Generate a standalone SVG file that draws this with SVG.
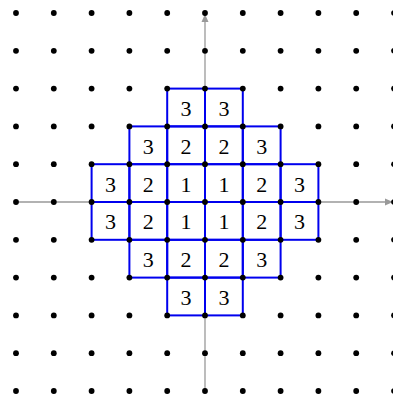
<svg xmlns="http://www.w3.org/2000/svg" width="393" height="398" viewBox="0 0 393 398">
<style>
.cell{fill:none;stroke:#0000ee;stroke-width:2}
.num{font-family:"Liberation Serif","DejaVu Serif",serif;font-size:22px;fill:#000;text-anchor:middle}
.axis{stroke:#999;stroke-width:1.3;fill:none}
.dot{fill:#000}
</style>
<defs>
<marker id="ah" markerWidth="8" markerHeight="8" refX="7" refY="4" orient="auto" markerUnits="userSpaceOnUse">
<path d="M0,0.5 L8,4 L0,7.5 Z" fill="#999"/>
</marker>
<circle id="d" r="2.9" class="dot"/>
</defs>
<rect width="393" height="398" fill="#fff"/>
<g id="connectors">
<line class="axis" x1="205" y1="391" x2="205" y2="15" marker-end="url(#ah)"/>
<line class="axis" x1="16" y1="202" x2="392" y2="202" marker-end="url(#ah)"/>
</g>
<g id="cells">
<g id="c_m1_2"><rect class="cell" x="167.2" y="88.6" width="37.8" height="37.8"/><text class="num" x="186.1" y="116">3</text></g>
<g id="c_0_2"><rect class="cell" x="205" y="88.6" width="37.8" height="37.8"/><text class="num" x="223.9" y="116">3</text></g>

<g id="c_m2_1"><rect class="cell" x="129.4" y="126.4" width="37.8" height="37.8"/><text class="num" x="148.3" y="153.8">3</text></g>
<g id="c_m1_1"><rect class="cell" x="167.2" y="126.4" width="37.8" height="37.8"/><text class="num" x="186.1" y="153.8">2</text></g>
<g id="c_0_1"><rect class="cell" x="205" y="126.4" width="37.8" height="37.8"/><text class="num" x="223.9" y="153.8">2</text></g>
<g id="c_1_1"><rect class="cell" x="242.8" y="126.4" width="37.8" height="37.8"/><text class="num" x="261.7" y="153.8">3</text></g>

<g id="c_m3_0"><rect class="cell" x="91.6" y="164.2" width="37.8" height="37.8"/><text class="num" x="110.5" y="191.6">3</text></g>
<g id="c_m2_0"><rect class="cell" x="129.4" y="164.2" width="37.8" height="37.8"/><text class="num" x="148.3" y="191.6">2</text></g>
<g id="c_m1_0"><rect class="cell" x="167.2" y="164.2" width="37.8" height="37.8"/><text class="num" x="186.1" y="191.6">1</text></g>
<g id="c_0_0"><rect class="cell" x="205" y="164.2" width="37.8" height="37.8"/><text class="num" x="223.9" y="191.6">1</text></g>
<g id="c_1_0"><rect class="cell" x="242.8" y="164.2" width="37.8" height="37.8"/><text class="num" x="261.7" y="191.6">2</text></g>
<g id="c_2_0"><rect class="cell" x="280.6" y="164.2" width="37.8" height="37.8"/><text class="num" x="299.5" y="191.6">3</text></g>

<g id="c_m3_m1"><rect class="cell" x="91.6" y="202" width="37.8" height="37.8"/><text class="num" x="110.5" y="229.4">3</text></g>
<g id="c_m2_m1"><rect class="cell" x="129.4" y="202" width="37.8" height="37.8"/><text class="num" x="148.3" y="229.4">2</text></g>
<g id="c_m1_m1"><rect class="cell" x="167.2" y="202" width="37.8" height="37.8"/><text class="num" x="186.1" y="229.4">1</text></g>
<g id="c_0_m1"><rect class="cell" x="205" y="202" width="37.8" height="37.8"/><text class="num" x="223.9" y="229.4">1</text></g>
<g id="c_1_m1"><rect class="cell" x="242.8" y="202" width="37.8" height="37.8"/><text class="num" x="261.7" y="229.4">2</text></g>
<g id="c_2_m1"><rect class="cell" x="280.6" y="202" width="37.8" height="37.8"/><text class="num" x="299.5" y="229.4">3</text></g>

<g id="c_m2_m2"><rect class="cell" x="129.4" y="239.8" width="37.8" height="37.8"/><text class="num" x="148.3" y="267.2">3</text></g>
<g id="c_m1_m2"><rect class="cell" x="167.2" y="239.8" width="37.8" height="37.8"/><text class="num" x="186.1" y="267.2">2</text></g>
<g id="c_0_m2"><rect class="cell" x="205" y="239.8" width="37.8" height="37.8"/><text class="num" x="223.9" y="267.2">2</text></g>
<g id="c_1_m2"><rect class="cell" x="242.8" y="239.8" width="37.8" height="37.8"/><text class="num" x="261.7" y="267.2">3</text></g>

<g id="c_m1_m3"><rect class="cell" x="167.2" y="277.6" width="37.8" height="37.8"/><text class="num" x="186.1" y="305">3</text></g>
<g id="c_0_m3"><rect class="cell" x="205" y="277.6" width="37.8" height="37.8"/><text class="num" x="223.9" y="305">3</text></g>
</g>
<g id="dots">
<g id="r0" transform="translate(0,13)"><use href="#d" x="16"/><use href="#d" x="53.8"/><use href="#d" x="91.6"/><use href="#d" x="129.4"/><use href="#d" x="167.2"/><use href="#d" x="205"/><use href="#d" x="242.8"/><use href="#d" x="280.6"/><use href="#d" x="318.4"/><use href="#d" x="356.2"/><use href="#d" x="394"/></g>
<g id="r1" transform="translate(0,50.8)"><use href="#d" x="16"/><use href="#d" x="53.8"/><use href="#d" x="91.6"/><use href="#d" x="129.4"/><use href="#d" x="167.2"/><use href="#d" x="205"/><use href="#d" x="242.8"/><use href="#d" x="280.6"/><use href="#d" x="318.4"/><use href="#d" x="356.2"/><use href="#d" x="394"/></g>
<g id="r2" transform="translate(0,88.6)"><use href="#d" x="16"/><use href="#d" x="53.8"/><use href="#d" x="91.6"/><use href="#d" x="129.4"/><use href="#d" x="167.2"/><use href="#d" x="205"/><use href="#d" x="242.8"/><use href="#d" x="280.6"/><use href="#d" x="318.4"/><use href="#d" x="356.2"/><use href="#d" x="394"/></g>
<g id="r3" transform="translate(0,126.4)"><use href="#d" x="16"/><use href="#d" x="53.8"/><use href="#d" x="91.6"/><use href="#d" x="129.4"/><use href="#d" x="167.2"/><use href="#d" x="205"/><use href="#d" x="242.8"/><use href="#d" x="280.6"/><use href="#d" x="318.4"/><use href="#d" x="356.2"/><use href="#d" x="394"/></g>
<g id="r4" transform="translate(0,164.2)"><use href="#d" x="16"/><use href="#d" x="53.8"/><use href="#d" x="91.6"/><use href="#d" x="129.4"/><use href="#d" x="167.2"/><use href="#d" x="205"/><use href="#d" x="242.8"/><use href="#d" x="280.6"/><use href="#d" x="318.4"/><use href="#d" x="356.2"/><use href="#d" x="394"/></g>
<g id="r5" transform="translate(0,202)"><use href="#d" x="16"/><use href="#d" x="53.8"/><use href="#d" x="91.6"/><use href="#d" x="129.4"/><use href="#d" x="167.2"/><use href="#d" x="205"/><use href="#d" x="242.8"/><use href="#d" x="280.6"/><use href="#d" x="318.4"/><use href="#d" x="356.2"/><use href="#d" x="394"/></g>
<g id="r6" transform="translate(0,239.8)"><use href="#d" x="16"/><use href="#d" x="53.8"/><use href="#d" x="91.6"/><use href="#d" x="129.4"/><use href="#d" x="167.2"/><use href="#d" x="205"/><use href="#d" x="242.8"/><use href="#d" x="280.6"/><use href="#d" x="318.4"/><use href="#d" x="356.2"/><use href="#d" x="394"/></g>
<g id="r7" transform="translate(0,277.6)"><use href="#d" x="16"/><use href="#d" x="53.8"/><use href="#d" x="91.6"/><use href="#d" x="129.4"/><use href="#d" x="167.2"/><use href="#d" x="205"/><use href="#d" x="242.8"/><use href="#d" x="280.6"/><use href="#d" x="318.4"/><use href="#d" x="356.2"/><use href="#d" x="394"/></g>
<g id="r8" transform="translate(0,315.4)"><use href="#d" x="16"/><use href="#d" x="53.8"/><use href="#d" x="91.6"/><use href="#d" x="129.4"/><use href="#d" x="167.2"/><use href="#d" x="205"/><use href="#d" x="242.8"/><use href="#d" x="280.6"/><use href="#d" x="318.4"/><use href="#d" x="356.2"/><use href="#d" x="394"/></g>
<g id="r9" transform="translate(0,353.2)"><use href="#d" x="16"/><use href="#d" x="53.8"/><use href="#d" x="91.6"/><use href="#d" x="129.4"/><use href="#d" x="167.2"/><use href="#d" x="205"/><use href="#d" x="242.8"/><use href="#d" x="280.6"/><use href="#d" x="318.4"/><use href="#d" x="356.2"/><use href="#d" x="394"/></g>
<g id="r10" transform="translate(0,391)"><use href="#d" x="16"/><use href="#d" x="53.8"/><use href="#d" x="91.6"/><use href="#d" x="129.4"/><use href="#d" x="167.2"/><use href="#d" x="205"/><use href="#d" x="242.8"/><use href="#d" x="280.6"/><use href="#d" x="318.4"/><use href="#d" x="356.2"/><use href="#d" x="394"/></g>
</g>
</svg>
